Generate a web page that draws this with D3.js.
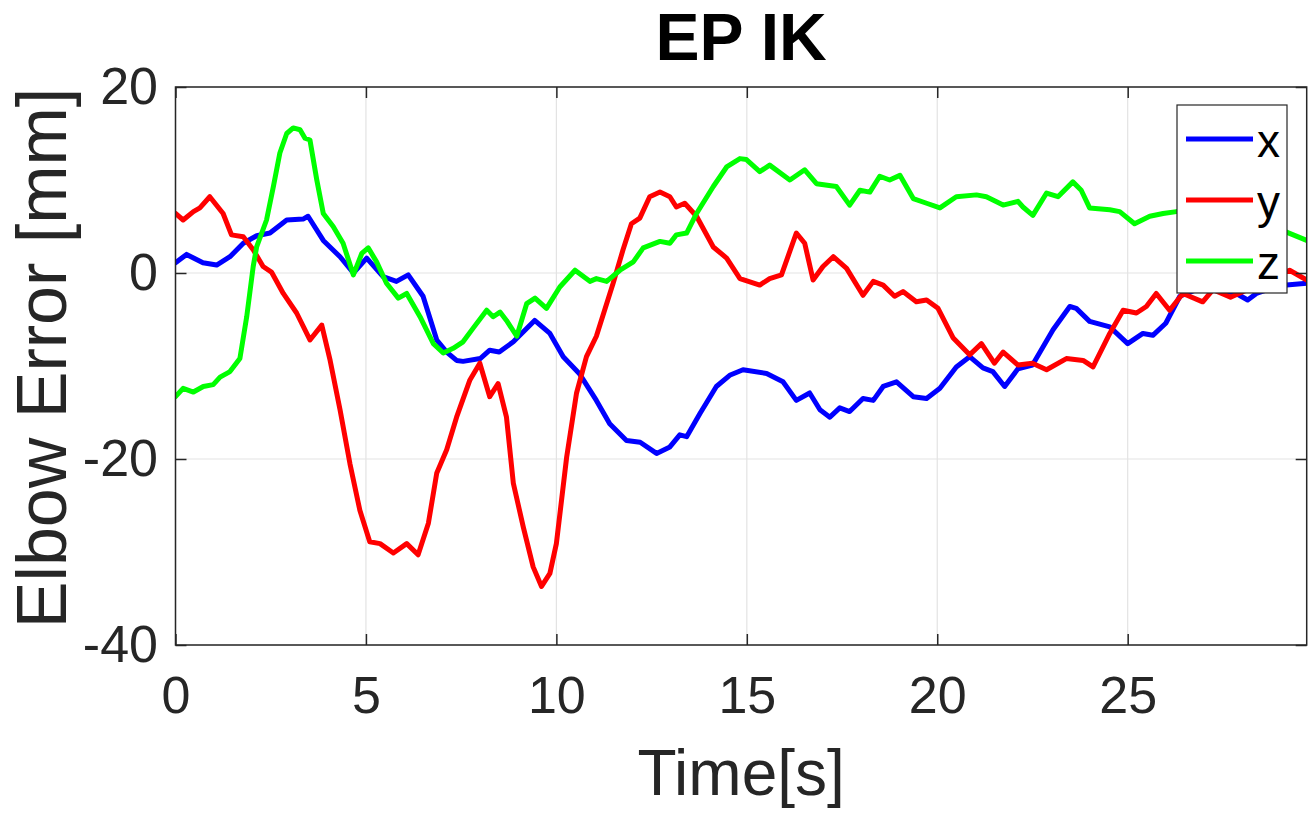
<!DOCTYPE html>
<html>
<head>
<meta charset="utf-8">
<script src="https://cdn.jsdelivr.net/npm/d3@7"></script>
<style>
body { margin: 0; background: #fff; }
svg { display: block; font-family: "Liberation Sans", Arial, Helvetica, sans-serif; }
</style>
</head>
<body>
<svg id="chart"></svg>
<script>
const width = 1316;
const height = 813;

// Chart values: [time s, error mm]
const xTicks = [0, 5, 10, 15, 20, 25];
const yTicks = [20, 0, -20, -40];
const seriesNames = ["x", "y", "z"];
const seriesColors = ["#0000ff", "#ff0000", "#00ff00"];

const xSeries = [[0,1.1],[0.29,2.0],[0.72,1.1],[1.08,0.86],[1.43,1.75],[1.78,3.2],[2.13,4.0],[2.48,4.3],[2.92,5.7],[3.35,5.8],[3.48,6.1],[3.88,3.5],[4.32,1.75],[4.67,0],[5.02,1.6],[5.45,-0.4],[5.8,-0.9],[6.11,-0.2],[6.5,-2.5],[6.86,-7.2],[7.12,-8.5],[7.38,-9.4],[7.55,-9.5],[8.0,-9.2],[8.25,-8.3],[8.5,-8.5],[8.87,-7.4],[9.43,-5.1],[9.83,-6.5],[10.18,-9.0],[10.6,-10.8],[11.05,-13.7],[11.4,-16.2],[11.84,-18.0],[12.2,-18.2],[12.63,-19.4],[12.98,-18.7],[13.24,-17.4],[13.42,-17.6],[13.77,-15.1],[14.2,-12.2],[14.55,-11.0],[14.9,-10.4],[15.52,-10.8],[15.95,-11.7],[16.3,-13.7],[16.65,-12.9],[16.92,-14.7],[17.18,-15.5],[17.44,-14.5],[17.7,-14.9],[18.05,-13.5],[18.32,-13.7],[18.58,-12.2],[18.93,-11.7],[19.37,-13.3],[19.72,-13.5],[20.07,-12.4],[20.5,-10.1],[20.85,-9.0],[21.2,-10.2],[21.46,-10.6],[21.77,-12.2],[22.12,-10.3],[22.5,-9.9],[23.04,-6.1],[23.48,-3.6],[23.65,-3.8],[24.0,-5.2],[24.53,-5.8],[25.0,-7.6],[25.4,-6.5],[25.66,-6.7],[26.0,-5.4],[26.37,-2.5],[26.8,-1.8],[27.3,-1.7],[27.85,-2.2],[28.15,-2.9],[28.38,-2.2],[28.8,-1.6],[29.17,-1.3],[29.7,-1.1]];

const ySeries = [[0,6.4],[0.2,5.7],[0.47,6.6],[0.64,7.0],[0.9,8.2],[1.25,6.4],[1.47,4.1],[1.78,3.9],[2.04,2.5],[2.3,0.7],[2.52,0.1],[2.83,-2.2],[3.18,-4.3],[3.53,-7.2],[3.84,-5.6],[4.06,-9.4],[4.32,-14.7],[4.58,-20.5],[4.84,-25.5],[5.1,-28.9],[5.37,-29.1],[5.72,-30.1],[6.07,-29.1],[6.37,-30.3],[6.64,-26.9],[6.86,-21.5],[7.12,-19.0],[7.38,-15.5],[7.73,-11.5],[7.99,-9.7],[8.25,-13.3],[8.47,-11.9],[8.69,-15.5],[8.87,-22.6],[9.13,-27.3],[9.39,-31.6],[9.61,-33.7],[9.83,-32.3],[10.0,-29.1],[10.27,-19.8],[10.53,-12.9],[10.79,-9.0],[11.05,-6.8],[11.49,-1.1],[11.75,2.5],[11.97,5.3],[12.19,5.9],[12.45,8.2],[12.72,8.7],[12.98,8.2],[13.15,7.1],[13.37,7.5],[13.68,6.1],[14.12,2.8],[14.47,1.6],[14.82,-0.6],[15.34,-1.3],[15.6,-0.6],[15.91,-0.2],[16.3,4.3],[16.52,3.2],[16.74,-0.75],[17.0,0.7],[17.27,1.75],[17.62,0.5],[18.05,-2.4],[18.32,-0.9],[18.58,-1.3],[18.88,-2.5],[19.1,-2.0],[19.45,-3.1],[19.72,-2.9],[20.02,-3.8],[20.42,-7.0],[20.85,-8.8],[21.16,-7.6],[21.5,-9.7],[21.73,-8.5],[22.12,-9.9],[22.5,-9.7],[22.87,-10.4],[23.39,-9.2],[23.83,-9.4],[24.09,-10.1],[24.53,-6.5],[24.88,-4.0],[25.23,-4.3],[25.49,-3.6],[25.75,-2.2],[26.1,-4.0],[26.45,-2.2],[26.97,-3.1],[27.24,-1.8],[27.7,-2.6],[28.3,-1.5],[28.8,-0.5],[29.25,0.3],[29.7,-0.75]];

const zSeries = [[0,-13.3],[0.2,-12.4],[0.47,-12.8],[0.73,-12.2],[0.99,-12.0],[1.17,-11.2],[1.43,-10.6],[1.69,-9.2],[1.87,-4.7],[2.04,0.7],[2.13,2.8],[2.39,5.7],[2.57,9.3],[2.74,12.9],[2.92,15.0],[3.09,15.6],[3.27,15.4],[3.4,14.5],[3.53,14.3],[3.71,10.0],[3.88,6.4],[4.14,5.0],[4.4,3.2],[4.67,-0.2],[4.89,2.1],[5.06,2.7],[5.28,1.2],[5.54,-1.1],[5.85,-2.7],[6.07,-2.2],[6.42,-4.7],[6.77,-7.6],[7.03,-8.6],[7.29,-8.1],[7.55,-7.4],[7.82,-5.9],[8.17,-4.0],[8.34,-4.7],[8.52,-4.2],[8.69,-5.1],[8.96,-6.8],[9.22,-3.3],[9.44,-2.7],[9.74,-3.8],[10.09,-1.5],[10.49,0.3],[10.88,-0.9],[11.05,-0.6],[11.32,-0.9],[11.67,0.3],[12.02,1.2],[12.28,2.7],[12.72,3.4],[12.98,3.2],[13.15,4.1],[13.42,4.3],[13.68,6.4],[14.12,9.3],[14.47,11.4],[14.82,12.3],[14.99,12.2],[15.34,10.9],[15.6,11.6],[16.13,10.0],[16.52,11.1],[16.83,9.6],[17.35,9.3],[17.7,7.3],[17.97,8.9],[18.23,8.7],[18.49,10.4],[18.75,10.0],[19.02,10.5],[19.37,8.0],[19.72,7.5],[20.07,7.0],[20.5,8.2],[21.03,8.4],[21.29,8.2],[21.73,7.3],[22.12,7.7],[22.25,7.1],[22.51,6.2],[22.87,8.6],[23.17,8.2],[23.56,9.8],[23.78,8.9],[24.0,7.0],[24.53,6.8],[24.79,6.6],[25.18,5.3],[25.58,6.1],[25.93,6.4],[26.28,6.6],[26.8,6.7],[27.3,6.3],[27.8,6.2],[28.3,5.8],[28.8,5.2],[29.17,4.4],[29.7,3.5]];

const allSeries = [xSeries, ySeries, zSeries];

const margin = {top: 87, right: 9.3, bottom: 168, left: 175.5};
const innerW = width - margin.left - margin.right;
const innerH = height - margin.top - margin.bottom;
const axisColor = "#262626";

const svg = d3.select("#chart").attr("width", width).attr("height", height);

const x = d3.scaleLinear().domain([0, 29.7]).range([margin.left, width - margin.right]);
const y = d3.scaleLinear().domain([-40, 20]).range([height - margin.bottom, margin.top]);

svg.append("defs").append("clipPath").attr("id", "plot-clip")
    .append("rect")
    .attr("x", margin.left).attr("y", margin.top)
    .attr("width", innerW).attr("height", innerH);

// grid
const grid = svg.append("g").attr("class", "grid");
grid.selectAll("line.vx").data(xTicks).join("line")
    .attr("x1", d => x(d)).attr("x2", d => x(d))
    .attr("y1", margin.top).attr("y2", height - margin.bottom)
    .attr("stroke", "#e3e3e3").attr("stroke-width", 1.2);
grid.selectAll("line.hy").data(yTicks).join("line")
    .attr("x1", margin.left).attr("x2", width - margin.right)
    .attr("y1", d => y(d)).attr("y2", d => y(d))
    .attr("stroke", "#e3e3e3").attr("stroke-width", 1.2);

// lines
const line = d3.line().x(d => x(d[0])).y(d => y(d[1]));
svg.append("g").attr("clip-path", "url(#plot-clip)")
    .selectAll("path").data(allSeries).join("path")
    .attr("d", line)
    .attr("fill", "none")
    .attr("stroke", (d, i) => seriesColors[i])
    .attr("stroke-width", 5)
    .attr("stroke-linejoin", "round")
    .attr("stroke-linecap", "round");

// axes (ticks point inward, MATLAB style)
function styleAxis(g) {
    g.select(".domain").remove();
    g.selectAll(".tick line").attr("stroke", axisColor).attr("stroke-width", 1.5);
    g.selectAll(".tick text").attr("fill", axisColor).style("font-size", "52px");
}

const plainFormat = d => String(d);

svg.append("g")
    .attr("transform", `translate(0,${height - margin.bottom})`)
    .call(d3.axisBottom(x).tickValues(xTicks).tickFormat(plainFormat).tickSizeInner(-11).tickSizeOuter(0).tickPadding(31))
    .call(styleAxis);

svg.append("g")
    .attr("transform", `translate(${margin.left},0)`)
    .call(d3.axisLeft(y).tickValues(yTicks).tickFormat(plainFormat).tickSizeInner(-11).tickSizeOuter(0).tickPadding(17.5))
    .call(styleAxis);

svg.append("g")
    .attr("transform", `translate(0,${margin.top})`)
    .call(d3.axisTop(x).tickValues(xTicks).tickSizeInner(-11).tickSizeOuter(0).tickFormat(""))
    .call(styleAxis);

svg.append("g")
    .attr("transform", `translate(${width - margin.right},0)`)
    .call(d3.axisRight(y).tickValues(yTicks).tickSizeInner(-11).tickSizeOuter(0).tickFormat(""))
    .call(styleAxis);

// box
svg.append("rect")
    .attr("x", margin.left).attr("y", margin.top)
    .attr("width", innerW).attr("height", innerH)
    .attr("fill", "none").attr("stroke", axisColor).attr("stroke-width", 1.5);

// title and labels
svg.append("text")
    .attr("x", (margin.left + width - margin.right) / 2).attr("y", 60)
    .attr("text-anchor", "middle")
    .style("font-size", "66px").style("font-weight", "bold")
    .attr("fill", "#000")
    .text("EP IK");

svg.append("text")
    .attr("x", (margin.left + width - margin.right) / 2).attr("y", 795)
    .attr("text-anchor", "middle")
    .style("font-size", "64px")
    .attr("fill", axisColor)
    .text("Time[s]");

svg.append("text")
    .attr("transform", "translate(66,358) rotate(-90)")
    .attr("text-anchor", "middle")
    .style("font-size", "70px")
    .attr("fill", axisColor)
    .text("Elbow Error [mm]");

// legend
const legend = svg.append("g").attr("class", "legend");
legend.append("rect")
    .attr("x", 1177).attr("y", 105).attr("width", 110).attr("height", 188)
    .attr("fill", "#fff").attr("stroke", axisColor).attr("stroke-width", 1.2);

const legendY = d3.scalePoint().domain(seriesNames).range([139, 261]);
const items = legend.selectAll("g.item").data(seriesNames).join("g").attr("class", "item");
items.append("line")
    .attr("x1", 1186).attr("x2", 1253)
    .attr("y1", d => legendY(d)).attr("y2", d => legendY(d))
    .attr("stroke", (d, i) => seriesColors[i]).attr("stroke-width", 5);
items.append("text")
    .attr("x", 1257).attr("y", d => legendY(d) + 18)
    .style("font-size", "46px")
    .attr("fill", "#000")
    .text(d => d);
</script>
</body>
</html>
